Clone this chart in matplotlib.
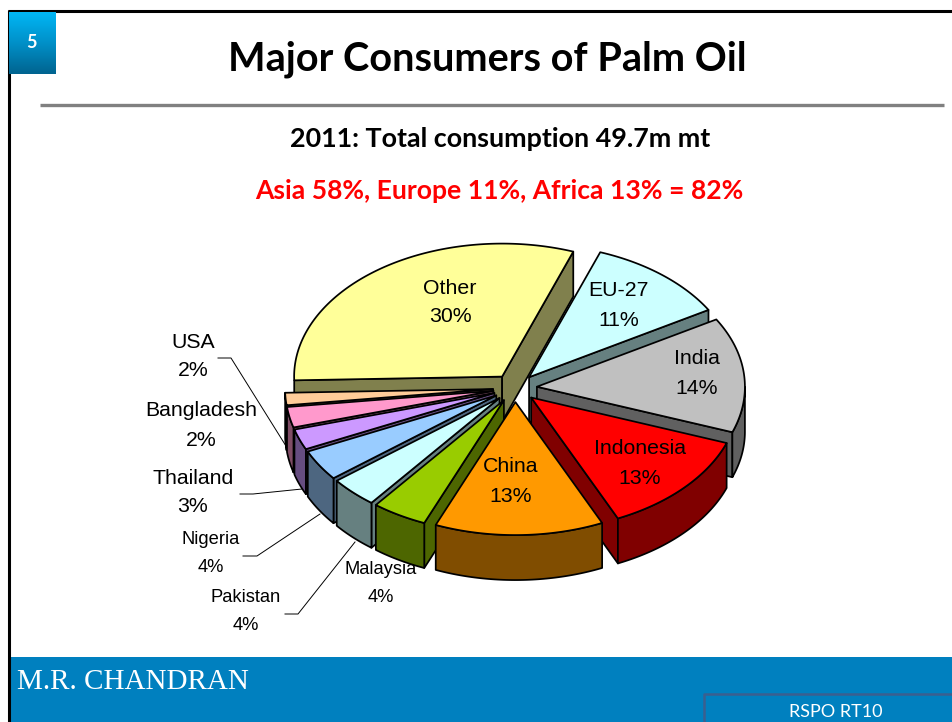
"""plot.py

Major consumers of palm oil, slide with an exploded 3D looking pie.
"""
import numpy as np
import matplotlib
matplotlib.use('Agg')
from matplotlib import pyplot as plt

#
# Data
#
countries = ['Other', 'EU-27', 'India', 'Indonesia', 'China', 'Malaysia',
             'Pakistan', 'Nigeria', 'Thailand', 'Bangladesh', 'USA']
# printed on the slide
printed = [30, 11, 14, 13, 13, 4, 4, 4, 3, 2, 2]
# slice sizes as drawn
shares = [31, 11, 14, 12.6, 13.1, 4.3, 3.75, 3.75, 2.5, 2.5, 1.5]
top_colours = ['#FFFF99', '#CCFFFF', '#C0C0C0', '#FF0000', '#FF9900', '#99CC00',
               '#CCFFFF', '#99CCFF', '#CC99FF', '#FF99CC', '#FFCC99']
title = 'Major Consumers of Palm Oil'
subtitle = '2011: Total consumption 49.7m mt'
regions = 'Asia 58%, Europe 11%, Africa 13% = 82%'

#
# Parameters
#
centre = (515, 388)
rx, ry = 208, 133
explode = 22
depth = 45
start = 181.6  # left edge of Other, slices go clockwise from there
draw_order = [0, 1, 2, 10, 9, 8, 7, 6, 5, 3, 4]
label_big = 15.3
label_small = 13.2
label_pos = {'Other': (450, 288, 316, label_big),
             'EU-27': (619, 291, 321, label_big),
             'India': (697, 358, 388, label_big),
             'Indonesia': (640, 449, 478, label_big),
             'China': (511, 467, 496, label_big),
             'Malaysia': (381, 570, 598, label_small),
             'Pakistan': (246, 598, 625, label_small),
             'Nigeria': (211, 540, 568, label_small),
             'Thailand': (193, 478, 507, label_big),
             'Bangladesh': (201, 411, 440, label_big),
             'USA': (193, 342, 371, label_big)}
leaders = [[(218, 358), (231, 358), (286, 446)],
           [(240, 494), (253, 494), (302, 489)],
           [(243, 556), (257, 556), (320, 514)],
           [(285, 614), (298, 614), (355, 542)]]


def project(angles, cx, cy):
    t = np.radians(angles)
    return cx + rx*np.cos(t), cy - ry*np.sin(t)


def darker(colour):
    return tuple(0.5*c for c in matplotlib.colors.to_rgb(colour))


#
# Plot
#
fig = plt.figure(figsize=(9.52, 7.22), dpi=100)
ax = fig.add_axes([0, 0, 1, 1])
ax.set_xlim(0, 952)
ax.set_ylim(722, 0)
ax.axis('off')

## Slide furniture
ax.plot([8.5, 8.5], [10, 722], color='black', lw=2.2, solid_capstyle='butt')
ax.plot([8, 952], [10.5, 10.5], color='black', lw=2.2, solid_capstyle='butt')
ax.plot([40, 944], [105, 105], color='#808080', lw=2.4, solid_capstyle='butt')
ax.imshow(np.linspace(0, 1, 64).reshape(-1, 1),
          cmap=matplotlib.colors.LinearSegmentedColormap.from_list(
              'badge', ['#00B6F5', '#0090C8', '#006490']),
          extent=(9, 56, 74, 12), aspect='auto', zorder=2)
ax.set_xlim(0, 952)
ax.set_ylim(722, 0)
ax.text(31, 42, '5', color='white', family='Lato', weight='bold', fontsize=13,
        ha='center', va='center', zorder=3)
ax.fill([10, 952, 952, 10], [657, 657, 722, 722], color='#0080BF', lw=0)
ax.plot([952, 704, 704], [694, 694, 722], color='#3B5F8F', lw=1.8)
ax.text(17, 682, 'M.R. CHANDRAN', color='white', family='Liberation Serif',
        fontsize=21, ha='left', va='center')
ax.text(836, 712, 'RSPO RT10', color='white', family='Lato', fontsize=13,
        ha='center', va='center')

ax.text(487, 59, title, color='black', family='Lato', weight='bold',
        fontsize=28.5, ha='center', va='center')
ax.text(500, 139, subtitle, color='black', family='Lato', weight='bold',
        fontsize=19.4, ha='center', va='center')
ax.text(499, 191, regions, color='#FF0000', family='Lato', weight='bold',
        fontsize=19.1, ha='center', va='center')

## Pie, each slice is pulled out along its own mid angle
sweeps = 360*np.array(shares)/sum(shares)
highs = start - np.concatenate([[0], np.cumsum(sweeps)[:-1]])
lows = highs - sweeps
for i in draw_order:
    hi, lo = highs[i], lows[i]
    mid = np.radians((hi + lo)/2)
    cx = centre[0] + explode*np.cos(mid)
    cy = centre[1] - explode*(ry/rx)*np.sin(mid)
    wall = darker(top_colours[i])
    line = dict(edgecolor='black', lw=1.25, joinstyle='round')

    # cut faces, only those turned towards the viewer
    faces = []
    if np.cos(np.radians(hi)) < 0:
        faces.append(hi)
    if np.cos(np.radians(lo)) > 0:
        faces.append(lo)
    for a in faces:
        ex, ey = project(np.array([a]), cx, cy)
        ax.fill([cx, ex[0], ex[0], cx], [cy, ey[0], ey[0]+depth, cy+depth],
                facecolor=wall, zorder=5, **line)

    # outer rim, only the part facing the viewer
    rim_hi, rim_lo = min(hi, 0), max(lo, -180)
    if rim_hi > rim_lo:
        arc = np.linspace(rim_hi, rim_lo, 60)
        x, y = project(arc, cx, cy)
        ax.fill(np.r_[x, x[::-1]], np.r_[y, y[::-1]+depth],
                facecolor=wall, zorder=5, **line)

    # top
    arc = np.linspace(hi, lo, 120)
    x, y = project(arc, cx, cy)
    ax.fill(np.r_[cx, x], np.r_[cy, y], facecolor=top_colours[i], zorder=5,
            **line)

## Labels
for name, share in zip(countries, printed):
    x, y1, y2, size = label_pos[name]
    ax.text(x, y1, name, family='Liberation Sans', fontsize=size, ha='center',
            va='center', color='black', zorder=6)
    ax.text(x, y2, '%d%%' % share, family='Liberation Sans', fontsize=size,
            ha='center', va='center', color='black', zorder=6)
for pts in leaders:
    ax.plot([p[0] for p in pts], [p[1] for p in pts], color='black', lw=0.7,
            zorder=4)

plt.savefig('out.png', dpi=100)
